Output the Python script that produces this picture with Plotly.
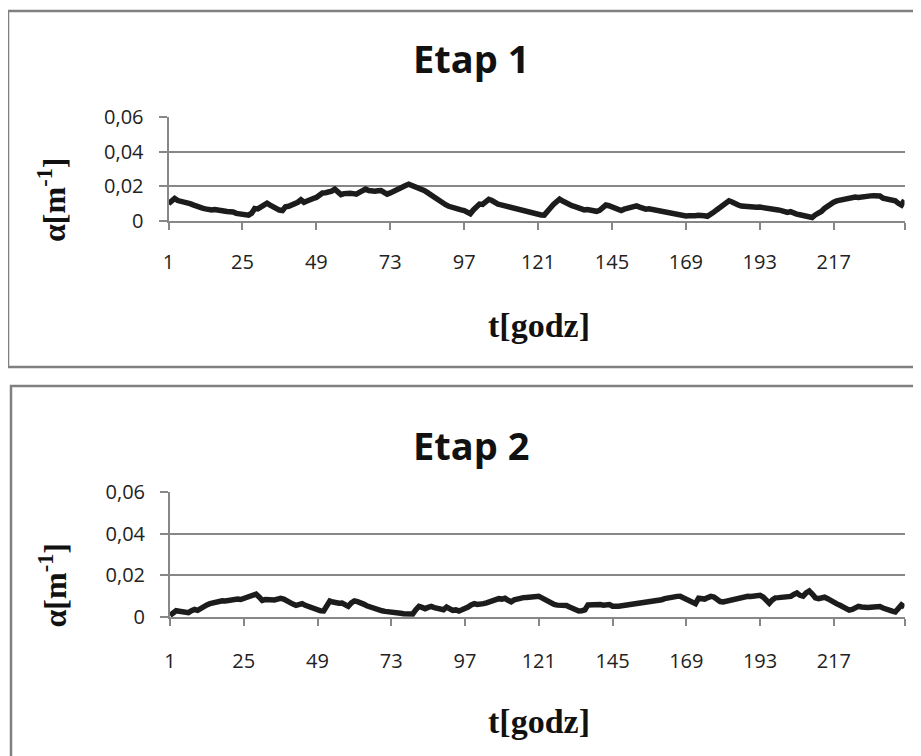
import plotly.graph_objects as go

t = list(range(1, 241))

etap1 = [
    0.0100, 0.0118, 0.0130, 0.0118, 0.0115, 0.0112, 0.0108, 0.0100, 0.0093, 0.0085, 0.0080, 0.0074,
    0.0070, 0.0065, 0.0064, 0.0066, 0.0061, 0.0060, 0.0058, 0.0055, 0.0057, 0.0052, 0.0044, 0.0040,
    0.0038, 0.0036, 0.0034, 0.0045, 0.0072, 0.0070, 0.0082, 0.0094, 0.0103, 0.0092, 0.0082, 0.0070,
    0.0063, 0.0060, 0.0082, 0.0085, 0.0092, 0.0100, 0.0108, 0.0122, 0.0108, 0.0115, 0.0125, 0.0130,
    0.0136, 0.0150, 0.0162, 0.0163, 0.0165, 0.0172, 0.0183, 0.0170, 0.0152, 0.0158, 0.0162, 0.0160,
    0.0158, 0.0155, 0.0165, 0.0178, 0.0184, 0.0176, 0.0170, 0.0172, 0.0175, 0.0176, 0.0165, 0.0155,
    0.0162, 0.0172, 0.0178, 0.0188, 0.0196, 0.0205, 0.0212, 0.0206, 0.0198, 0.0190, 0.0184, 0.0176,
    0.0165, 0.0152, 0.0138, 0.0126, 0.0115, 0.0102, 0.0094, 0.0085, 0.0078, 0.0073, 0.0068, 0.0064,
    0.0060, 0.0050, 0.0042, 0.0064, 0.0085, 0.0098, 0.0096, 0.0112, 0.0125, 0.0118, 0.0104, 0.0097,
    0.0093, 0.0088, 0.0084, 0.0082, 0.0076, 0.0070, 0.0067, 0.0063, 0.0056, 0.0054, 0.0048, 0.0040,
    0.0036, 0.0035, 0.0034, 0.0050, 0.0075, 0.0095, 0.0115, 0.0126, 0.0115, 0.0103, 0.0096, 0.0088,
    0.0083, 0.0076, 0.0070, 0.0064, 0.0066, 0.0060, 0.0058, 0.0056, 0.0062, 0.0080, 0.0092, 0.0088,
    0.0080, 0.0078, 0.0068, 0.0060, 0.0068, 0.0074, 0.0072, 0.0080, 0.0087, 0.0080, 0.0070, 0.0068,
    0.0070, 0.0066, 0.0070, 0.0062, 0.0054, 0.0050, 0.0046, 0.0042, 0.0038, 0.0035, 0.0033, 0.0030,
    0.0029, 0.0030, 0.0028, 0.0031, 0.0033, 0.0028, 0.0030, 0.0027, 0.0035, 0.0050, 0.0064, 0.0076,
    0.0090, 0.0104, 0.0116, 0.0110, 0.0098, 0.0092, 0.0086, 0.0083, 0.0082, 0.0080, 0.0081, 0.0079,
    0.0080, 0.0078, 0.0077, 0.0078, 0.0072, 0.0068, 0.0064, 0.0060, 0.0052, 0.0050, 0.0054, 0.0045,
    0.0040, 0.0036, 0.0032, 0.0028, 0.0024, 0.0020, 0.0035, 0.0042, 0.0055, 0.0072, 0.0086, 0.0098,
    0.0108, 0.0116, 0.0120, 0.0126, 0.0130, 0.0126, 0.0134, 0.0138, 0.0136, 0.0140, 0.0141, 0.0140,
    0.0145, 0.0146, 0.0148, 0.0144, 0.0132, 0.0128, 0.0126, 0.0122, 0.0116, 0.0102, 0.0092, 0.0120,
]

etap2 = [
    0.0008, 0.0020, 0.0030, 0.0028, 0.0025, 0.0022, 0.0021, 0.0030, 0.0036, 0.0032, 0.0042, 0.0051,
    0.0058, 0.0064, 0.0068, 0.0072, 0.0075, 0.0078, 0.0077, 0.0080, 0.0083, 0.0084, 0.0086, 0.0084,
    0.0088, 0.0096, 0.0100, 0.0104, 0.0110, 0.0096, 0.0080, 0.0084, 0.0082, 0.0080, 0.0082, 0.0086,
    0.0090, 0.0086, 0.0076, 0.0068, 0.0062, 0.0056, 0.0062, 0.0064, 0.0056, 0.0050, 0.0046, 0.0040,
    0.0034, 0.0030, 0.0029, 0.0060, 0.0077, 0.0072, 0.0066, 0.0066, 0.0067, 0.0058, 0.0051, 0.0068,
    0.0077, 0.0074, 0.0070, 0.0062, 0.0054, 0.0048, 0.0043, 0.0038, 0.0034, 0.0030, 0.0027, 0.0024,
    0.0026, 0.0022, 0.0020, 0.0018, 0.0016, 0.0014, 0.0013, 0.0015, 0.0035, 0.0051, 0.0046, 0.0040,
    0.0046, 0.0051, 0.0045, 0.0040, 0.0036, 0.0035, 0.0048, 0.0036, 0.0032, 0.0034, 0.0029, 0.0035,
    0.0040, 0.0048, 0.0058, 0.0064, 0.0060, 0.0059, 0.0064, 0.0068, 0.0072, 0.0080, 0.0086, 0.0088,
    0.0086, 0.0090, 0.0080, 0.0073, 0.0082, 0.0088, 0.0090, 0.0093, 0.0094, 0.0096, 0.0098, 0.0098,
    0.0099, 0.0092, 0.0084, 0.0073, 0.0066, 0.0060, 0.0057, 0.0056, 0.0058, 0.0055, 0.0048, 0.0040,
    0.0034, 0.0029, 0.0030, 0.0034, 0.0058, 0.0060, 0.0058, 0.0059, 0.0060, 0.0057, 0.0059, 0.0060,
    0.0052, 0.0049, 0.0052, 0.0054, 0.0056, 0.0058, 0.0057, 0.0059, 0.0063, 0.0066, 0.0065, 0.0069,
    0.0071, 0.0072, 0.0076, 0.0079, 0.0083, 0.0088, 0.0092, 0.0096, 0.0097, 0.0099, 0.0100, 0.0092,
    0.0084, 0.0080, 0.0072, 0.0064, 0.0090, 0.0088, 0.0086, 0.0093, 0.0099, 0.0096, 0.0085, 0.0074,
    0.0072, 0.0076, 0.0078, 0.0082, 0.0088, 0.0092, 0.0095, 0.0098, 0.0099, 0.0098, 0.0100, 0.0102,
    0.0104, 0.0096, 0.0080, 0.0066, 0.0082, 0.0092, 0.0093, 0.0094, 0.0092, 0.0097, 0.0099, 0.0108,
    0.0115, 0.0104, 0.0100, 0.0116, 0.0125, 0.0110, 0.0092, 0.0088, 0.0092, 0.0095, 0.0088, 0.0078,
    0.0070, 0.0063, 0.0056, 0.0048, 0.0040, 0.0033, 0.0036, 0.0044, 0.0051, 0.0048, 0.0045, 0.0046,
    0.0047, 0.0050, 0.0052, 0.0050, 0.0043, 0.0040, 0.0034, 0.0028, 0.0024, 0.0040, 0.0058, 0.0048,
]

x_tick_vals = [1, 25, 49, 73, 97, 121, 145, 169, 193, 217]
x_tick_text = ["1", "25", "49", "73", "97", "121", "145", "169", "193", "217"]
y_tick_vals = [0, 0.02, 0.04, 0.06]
y_tick_text = ["0", "0,02", "0,04", "0,06"]
titles = ["Etap 1", "Etap 2"]

W, H = 921, 756
OFF = 8  # page body margin
GRID = "#878787"
LINE = "#1c1c1c"
TICKFONT = dict(family="Open Sans, Arial", size=20, color="#222222")

fig = go.Figure()

# pixel geometry in screenshot coordinates (top-left origin)
panels = [
    dict(x0=168.5, x1=904.5, ytop=117, ybot=221, box=(8, 11, 940, 367), xstand=15),
    dict(x0=170, x1=904.5, ytop=492, ybot=617, box=(11, 386, 940, 780), xstand=18),
]
title_y = [55, 442]

def px_x(v):
    return (v - OFF) / W

def px_y(v):
    return 1 - (v - OFF) / H

for i, (p, data) in enumerate(zip(panels, [etap1, etap2])):
    xa = "x" if i == 0 else "x2"
    ya = "y" if i == 0 else "y2"
    fig.add_trace(go.Scatter(x=t, y=data, mode="lines",
                             line=dict(color=LINE, width=5.5),
                             xaxis=xa, yaxis=ya, showlegend=False,
                             hoverinfo="skip"))
    xkey = "xaxis" if i == 0 else "xaxis2"
    ykey = "yaxis" if i == 0 else "yaxis2"
    fig.update_layout(**{
        xkey: dict(domain=[px_x(p["x0"]), px_x(p["x1"])], anchor=ya,
                   range=[1, 240], tickmode="array",
                   tickvals=x_tick_vals + [240],
                   ticktext=x_tick_text + [""],
                   showgrid=False, zeroline=False, automargin=False,
                   showline=True, linecolor=GRID, linewidth=2,
                   ticks="outside", ticklen=7, tickwidth=2, tickcolor=GRID,
                   tickfont=TICKFONT, ticklabelstandoff=p["xstand"]),
        ykey: dict(domain=[px_y(p["ybot"]), px_y(p["ytop"])], anchor=xa,
                   range=[0, 0.06], tickmode="array",
                   tickvals=y_tick_vals, ticktext=y_tick_text,
                   showgrid=True, gridcolor=GRID, gridwidth=2, automargin=False,
                   zeroline=False, showline=True, linecolor=GRID, linewidth=2,
                   ticks="outside", ticklen=8, tickwidth=2, tickcolor=GRID,
                   tickfont=TICKFONT, ticklabelstandoff=11),
    })
    bx0, by0, bx1, by1 = p["box"]
    fig.add_shape(type="rect", xref="paper", yref="paper",
                  x0=px_x(bx0), x1=px_x(bx1), y0=px_y(by1), y1=px_y(by0),
                  line=dict(color="#808080", width=2.5), layer="below")
    # chart title
    fig.add_annotation(xref="paper", yref="paper", x=px_x(471),
                       y=px_y(title_y[i] + 3), text="<b>" + titles[i] + "</b>",
                       showarrow=False, xanchor="center", yanchor="middle",
                       font=dict(family="Open Sans, Arial", size=38, color="#111111"))
    # x axis title
    fig.add_annotation(xref="paper", yref="paper", x=px_x(539),
                       y=px_y(p["ybot"] + 104), text="<b>t[godz]</b>",
                       showarrow=False, xanchor="center", yanchor="middle",
                       font=dict(family="Liberation Serif, Times New Roman", size=34, color="#111111"))
    # y axis title
    fig.add_annotation(xref="paper", yref="paper", x=px_x(52),
                       y=px_y((p["ytop"] + p["ybot"]) / 2 + 31),
                       text="<b>α[m<sup>-1</sup>]</b>", textangle=-90,
                       showarrow=False, xanchor="center", yanchor="middle",
                       font=dict(family="Liberation Serif, Times New Roman", size=32, color="#111111"))

fig.update_layout(width=W, height=H, margin=dict(l=0, r=0, t=0, b=0, autoexpand=False),
                  paper_bgcolor="white", plot_bgcolor="white")

fig.write_html("out.html")
